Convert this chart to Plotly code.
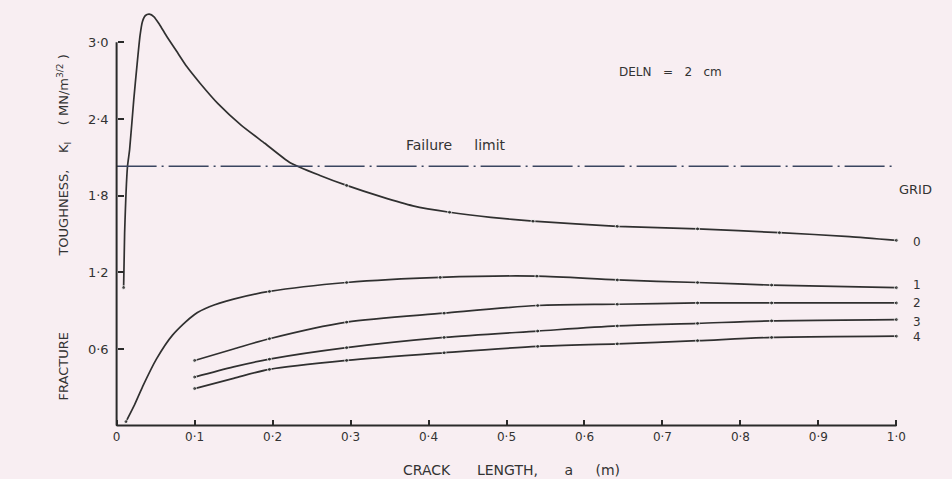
import plotly.graph_objects as go

# ---- data ----
grid0_a = [0.009, 0.0103, 0.014, 0.0167, 0.022, 0.026, 0.030, 0.033, 0.037, 0.042, 0.048, 0.055,
           0.064, 0.077, 0.09, 0.107, 0.13, 0.16, 0.19, 0.222, 0.26, 0.295, 0.34, 0.38, 0.427,
           0.48, 0.534, 0.642, 0.745, 0.85, 0.94, 1.0]
grid0_k = [1.08, 1.51, 2.03, 2.16, 2.55, 2.81, 3.05, 3.16, 3.21, 3.22, 3.20, 3.14,
           3.05, 2.93, 2.81, 2.68, 2.52, 2.35, 2.21, 2.06, 1.96, 1.88, 1.79, 1.72, 1.67,
           1.63, 1.60, 1.56, 1.54, 1.51, 1.48, 1.45]

grid1_a = [0.012, 0.022, 0.033, 0.051, 0.072, 0.10, 0.119, 0.15, 0.196, 0.295, 0.415,
           0.539, 0.642, 0.745, 0.84, 1.0]
grid1_k = [0.03, 0.15, 0.30, 0.52, 0.71, 0.87, 0.93, 0.99, 1.05, 1.12, 1.16,
           1.17, 1.14, 1.12, 1.10, 1.08]

gridN_a = [0.10, 0.15, 0.196, 0.295, 0.42, 0.54, 0.642, 0.745, 0.84, 1.0]
grid2_k = [0.51, 0.60, 0.68, 0.81, 0.88, 0.94, 0.95, 0.96, 0.96, 0.96]
grid3_k = [0.38, 0.46, 0.52, 0.61, 0.69, 0.74, 0.78, 0.80, 0.82, 0.83]
grid4_k = [0.29, 0.37, 0.44, 0.51, 0.57, 0.62, 0.64, 0.665, 0.69, 0.70]

failure_limit = 2.03

x_ticks = [0, 0.1, 0.2, 0.3, 0.4, 0.5, 0.6, 0.7, 0.8, 0.9, 1.0]
x_tick_labels = ["0", "0\u00b71", "0\u00b72", "0\u00b73", "0\u00b74", "0\u00b75",
                 "0\u00b76", "0\u00b77", "0\u00b78", "0\u00b79", "1\u00b70"]
y_ticks = [0.6, 1.2, 1.8, 2.4, 3.0]
y_tick_labels = ["0\u00b76", "1\u00b72", "1\u00b78", "2\u00b74", "3\u00b70"]

grid_labels = ["0", "1", "2", "3", "4"]
grid_label_k = [1.44, 1.10, 0.96, 0.81, 0.69]

# ---- style ----
BG = "#f8eef2"
INK = "#303030"
TXT = "#333333"
FONT = "DejaVu Sans"

fig = go.Figure()

def marker_sizes(a_list, start_a):
    return [4 if (a >= start_a or i == 0) else 0 for i, a in enumerate(a_list)]

mark0 = [4 if (i == 0 or a in (0.295, 0.427, 0.534, 0.642, 0.745, 0.85, 1.0)) else 0
         for i, a in enumerate(grid0_a)]
fig.add_trace(go.Scatter(x=grid0_a, y=grid0_k, mode="lines+markers",
                         line=dict(color=INK, width=1.7, shape="spline", smoothing=0.5),
                         marker=dict(size=mark0, color=INK),
                         showlegend=False))
fig.add_trace(go.Scatter(x=grid1_a, y=grid1_k, mode="lines+markers",
                         line=dict(color=INK, width=1.7, shape="spline", smoothing=0.8),
                         marker=dict(size=marker_sizes(grid1_a, 0.19), color=INK),
                         showlegend=False))
for ks in (grid2_k, grid3_k, grid4_k):
    fig.add_trace(go.Scatter(x=gridN_a, y=ks, mode="lines+markers",
                             line=dict(color=INK, width=1.7, shape="spline", smoothing=0.8),
                             marker=dict(size=marker_sizes(gridN_a, 0.19), color=INK),
                             showlegend=False))

# failure limit (dash-dot)
fig.add_trace(go.Scatter(x=[0, 0.995], y=[failure_limit, failure_limit], mode="lines",
                         line=dict(color="#3a4560", width=1.7, dash="40px,5px,2px,5px"),
                         showlegend=False))

# axis lines
fig.add_shape(type="line", x0=0, x1=0, y0=0, y1=3.0, xref="x", yref="y",
              line=dict(color="#2a2a2a", width=2))
fig.add_shape(type="line", x0=0, x1=1.0, y0=0, y1=0, xref="x", yref="y",
              line=dict(color="#2a2a2a", width=2))

xr = [-0.02, 1.02]
yr = [-0.05, 3.3]

def px(a):
    return (a - xr[0]) / (xr[1] - xr[0])

def py(k):
    return (k - yr[0]) / (yr[1] - yr[0])

fig.update_layout(
    width=952, height=479,
    margin=dict(l=101, r=40, t=4, b=47),
    paper_bgcolor=BG, plot_bgcolor=BG,
    font=dict(family=FONT, color=TXT, size=12),
    xaxis=dict(range=xr, showgrid=False, zeroline=False, showline=False,
               tickvals=x_ticks, ticktext=x_tick_labels, ticks="inside", ticklen=6,
               tickcolor="#2a2a2a", tickwidth=1.5,
               anchor="free", position=py(0), ticklabelstandoff=2,
               tickfont=dict(size=12, color=TXT)),
    yaxis=dict(range=yr, showgrid=False, zeroline=False, showline=False,
               tickvals=y_ticks, ticktext=y_tick_labels, ticks="inside", ticklen=6,
               tickcolor="#2a2a2a", tickwidth=1.5,
               anchor="free", position=px(0), ticklabelstandoff=8,
               tickfont=dict(size=13, color=TXT)),
)

NB = "\u00a0"
# positions given in data units, converted to paper fractions
annots = [
    dict(x=0.507, y=-0.345, text=f"CRACK{NB*6}LENGTH,{NB*6}a{NB*5}(m)", size=14, angle=0),
    dict(x=-0.068, y=0.46, text="FRACTURE", size=13, angle=-90),
    dict(x=-0.068, y=2.11,
         text=f"TOUGHNESS,{NB*4}K<sub>I</sub>{NB*4}({NB}MN/m<sup>3/2</sup>{NB})",
         size=13, angle=-90),
    dict(x=0.71, y=2.77, text=f"DELN{NB*3}={NB*3}2{NB*3}cm", size=12, angle=0),
    dict(x=0.435, y=2.20, text=f"Failure{NB*5}limit", size=14, angle=0),
    dict(x=1.024, y=1.85, text="GRID", size=13, angle=0),
]
for an in annots:
    fig.add_annotation(x=px(an["x"]), y=py(an["y"]), xref="paper", yref="paper",
                       xanchor="center", yanchor="middle", text=an["text"],
                       textangle=an["angle"], showarrow=False,
                       font=dict(family=FONT, size=an["size"], color=TXT))
for lab, k in zip(grid_labels, grid_label_k):
    fig.add_annotation(x=px(1.027), y=py(k), xref="paper", yref="paper", text=lab,
                       xanchor="center", yanchor="middle", showarrow=False,
                       font=dict(family=FONT, size=12, color=TXT))

fig.write_html("out.html", config={"displayModeBar": False},
               post_script="document.body.style.margin='0';document.body.style.overflow='hidden';")
